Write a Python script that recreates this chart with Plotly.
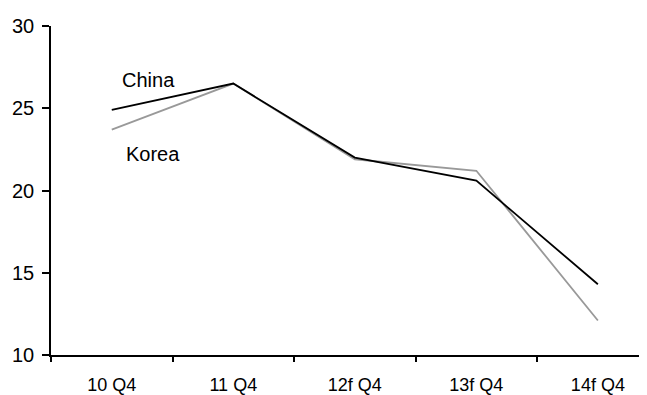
import plotly.graph_objects as go

categories = ["10 Q4", "11 Q4", "12f Q4", "13f Q4", "14f Q4"]
china = [24.9, 26.5, 22.0, 20.6, 14.3]
korea = [23.7, 26.5, 21.9, 21.2, 12.1]
y_ticks = [10, 15, 20, 25, 30]

fig = go.Figure()
fig.add_trace(go.Scatter(x=categories, y=korea, mode="lines", name="Korea",
                         line=dict(color="#999999", width=1.8)))
fig.add_trace(go.Scatter(x=categories, y=china, mode="lines", name="China",
                         line=dict(color="#000000", width=1.8)))

fig.add_annotation(x=0.07, y=26.7, xref="x", yref="y", text="China", showarrow=False,
                   xanchor="left", yanchor="middle", font=dict(size=20, color="#000"))
fig.add_annotation(x=0.10, y=22.2, xref="x", yref="y", text="Korea", showarrow=False,
                   xanchor="left", yanchor="middle", font=dict(size=20, color="#000"))

# page body adds an 8px offset; margins compensate so the plot lands where the reference has it
fig.update_layout(
    width=647, height=395,
    margin=dict(l=43, r=0, t=17.5, b=47.5, autoexpand=False),
    plot_bgcolor="white", paper_bgcolor="white",
    showlegend=False,
    font=dict(family="Liberation Sans, Arial, sans-serif", size=17, color="#000"),
)
fig.update_xaxes(type="category", range=[-0.5, 4.47], tickson="boundaries",
                 showline=True, linecolor="#000", linewidth=1.5,
                 ticks="outside", ticklen=5, tickcolor="#000", tickwidth=1.5,
                 ticklabelstandoff=13, automargin=False,
                 showgrid=False, zeroline=False, tickfont=dict(size=18))
fig.update_yaxes(range=[10, 30], tickvals=y_ticks,
                 showline=True, linecolor="#000", linewidth=1.5,
                 ticks="outside", ticklen=7, tickcolor="#000", tickwidth=1.5,
                 ticklabelstandoff=4, automargin=False,
                 showgrid=False, zeroline=False, tickfont=dict(size=20))

fig.write_html("out.html")
